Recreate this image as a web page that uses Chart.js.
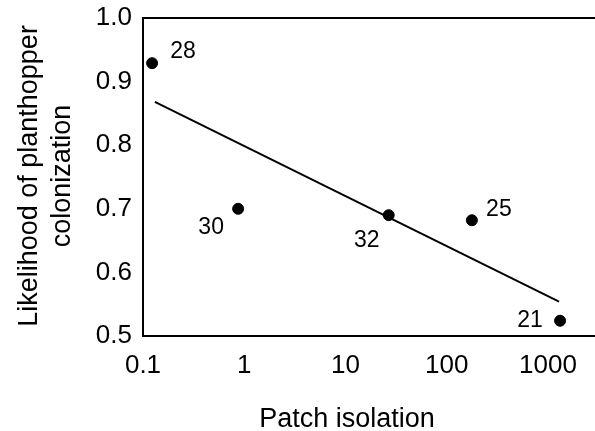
<!DOCTYPE html>
<html>
<head>
<meta charset="utf-8">
<script src="https://cdn.jsdelivr.net/npm/chart.js@4/dist/chart.umd.min.js"></script>
<style>
  html, body { margin: 0; padding: 0; background: #fff; }
  #wrap { width: 595px; height: 431px; }
</style>
</head>
<body>
<div id="wrap"><canvas id="plot"></canvas></div>
<script>
// data
var isolation = [0.123, 0.87, 26.7, 177, 1315];
var likelihood = [0.929, 0.700, 0.690, 0.682, 0.524];
var siteLabels = ['28', '30', '32', '25', '21'];
var fitX = [0.131, 1285];
var fitY = [0.868, 0.554];
var xTicks = [0.1, 1, 10, 100, 1000];
var xTitle = 'Patch isolation';
var yTitle = ['Likelihood of planthopper', 'colonization'];

// label placement relative to each point (px)
var labelOffsets = [[31, -11], [-27, 19], [-22, 25], [27, -11], [-30, 0]];

var font = 'Liberation Sans, Arial, sans-serif';

var extras = {
    id: 'extras',
    afterDatasetsDraw: function(chart) {
        var ctx = chart.ctx;
        var meta = chart.getDatasetMeta(0);
        var a = chart.chartArea;
        ctx.save();
        ctx.fillStyle = '#000';
        ctx.font = '23px ' + font;
        ctx.textAlign = 'center';
        ctx.textBaseline = 'middle';
        meta.data.forEach(function(pt, i) {
            ctx.fillText(siteLabels[i], pt.x + labelOffsets[i][0], pt.y + labelOffsets[i][1]);
        });

        // top frame line
        ctx.strokeStyle = '#000';
        ctx.lineWidth = 2;
        ctx.beginPath();
        ctx.moveTo(a.left, a.top);
        ctx.lineTo(chart.width, a.top);
        ctx.stroke();

        // axis titles
        ctx.font = '27px ' + font;
        ctx.textBaseline = 'alphabetic';
        ctx.fillText(xTitle, 347, 427);
        ctx.translate(0, 176);
        ctx.rotate(-Math.PI / 2);
        ctx.fillText(yTitle[0], 0, 37);
        ctx.fillText(yTitle[1], 0, 70);
        ctx.restore();
    }
};

var ctx = document.getElementById('plot');
var g = new Chart(ctx, {
    type: 'scatter',
    data: {
        datasets: [{
            data: isolation.map(function(v, i) { return { x: v, y: likelihood[i] }; }),
            backgroundColor: '#000',
            borderColor: '#000',
            pointRadius: 5.5,
            pointHoverRadius: 5.5
        }, {
            data: fitX.map(function(v, i) { return { x: v, y: fitY[i] }; }),
            showLine: true,
            borderColor: '#000',
            borderWidth: 2,
            pointRadius: 0,
            fill: false
        }]
    },
    options: {
        responsive: true,
        maintainAspectRatio: false,
        animation: false,
        layout: { autoPadding: false, padding: { top: 18, right: 0, left: 0, bottom: 0 } },
        plugins: {
            legend: { display: false },
            tooltip: { enabled: false }
        },
        scales: {
            x: {
                type: 'logarithmic',
                min: 0.1,
                max: 2910,
                afterBuildTicks: function(axis) {
                    axis.ticks = xTicks.map(function(v) { return { value: v }; });
                },
                afterFit: function(axis) {
                    axis.height = 95;
                    axis.paddingLeft = 0;
                    axis.paddingRight = 0;
                },
                grid: { display: false, drawTicks: true, tickLength: 5, tickColor: '#000' },
                border: { display: true, color: '#000', width: 2 },
                ticks: {
                    color: '#000',
                    font: { family: font, size: 26 },
                    padding: 9,
                    maxRotation: 0,
                    autoSkip: false,
                    callback: function(v) { return String(v); }
                }
            },
            y: {
                min: 0.5,
                max: 1.0,
                afterFit: function(axis) {
                    axis.width = 143;
                    axis.paddingTop = 0;
                    axis.paddingBottom = 0;
                },
                grid: { display: false, drawTicks: true, tickLength: 5, tickColor: '#000' },
                border: { display: true, color: '#000', width: 2 },
                ticks: {
                    stepSize: 0.1,
                    color: '#000',
                    font: { family: font, size: 26 },
                    padding: 6,
                    callback: function(v) { return v.toFixed(1); }
                }
            }
        }
    },
    plugins: [extras]
});
</script>
</body>
</html>
